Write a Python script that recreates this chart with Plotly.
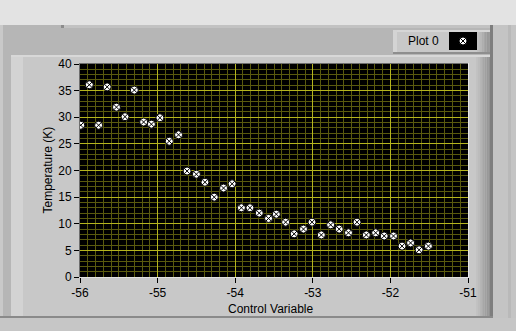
import plotly.graph_objects as go

# ---- data ----
control_variable = [-55.99, -55.88, -55.76, -55.65, -55.53, -55.42, -55.30, -55.18,
                    -55.08, -54.97, -54.85, -54.73, -54.62, -54.50, -54.39, -54.27,
                    -54.15, -54.04, -53.92, -53.81, -53.69, -53.57, -53.47, -53.35,
                    -53.24, -53.12, -53.01, -52.89, -52.77, -52.66, -52.54, -52.43,
                    -52.31, -52.19, -52.08, -51.96, -51.85, -51.74, -51.63, -51.51]
temperature_k = [28.5, 36.1, 28.5, 35.7, 31.9, 30.1, 35.1, 29.1,
                 28.7, 29.9, 25.5, 26.7, 19.9, 19.3, 17.8, 15.0,
                 16.7, 17.5, 13.0, 13.0, 12.0, 11.0, 11.8, 10.3,
                 8.1, 9.0, 10.3, 7.9, 9.8, 9.0, 8.3, 10.3,
                 7.9, 8.3, 7.7, 7.7, 5.8, 6.4, 5.1, 5.8]
x_tick_values = [-56, -55, -54, -53, -52, -51]
x_tick_labels = ["-56", "-55", "-54", "-53", "-52", "-51"]
y_tick_values = [0, 5, 10, 15, 20, 25, 30, 35, 40]
y_tick_labels = ["0", "5", "10", "15", "20", "25", "30", "35", "40"]
series_name = "Plot 0"
x_title = "Control Variable"
y_title = "Temperature (K)"

# ---- geometry (pixels) ----
W, H = 516, 331
L, R, T, B = 80, 468, 64, 277
FONT = "Liberation Sans"


def px(x):
    return (x - L) / (R - L)


def py(y):
    return (B - y) / (B - T)


def rect(x0, y0, x1, y1, color):
    return dict(type="rect", xref="paper", yref="paper",
                x0=px(x0), x1=px(x1), y0=py(y1), y1=py(y0),
                fillcolor=color, line=dict(width=0), layer="below")


def hline(x0, x1, y, color, w=1):
    return dict(type="line", xref="paper", yref="paper",
                x0=px(x0), x1=px(x1), y0=py(y), y1=py(y),
                line=dict(color=color, width=w), layer="below")


def vline(x, y0, y1, color, w=1):
    return dict(type="line", xref="paper", yref="paper",
                x0=px(x), x1=px(x), y0=py(y0), y1=py(y1),
                line=dict(color=color, width=w), layer="below")


shapes = []
# outer panel
shapes.append(rect(0, 25, 516, 331, "#b6b6b6"))
shapes.append(rect(0, 25, 3, 331, "#c9c9c9"))
shapes.append(rect(64, 25, 507, 28, "#c2c2c2"))
shapes.append(rect(61, 25, 64, 28, "#8c8c8c"))
# right and bottom light regions
shapes.append(rect(493, 25, 516, 331, "#c4c4c4"))
shapes.append(rect(508, 25, 511, 331, "#b9b9b9"))
shapes.append(rect(0, 318, 516, 331, "#c6c6c6"))
# inner panel
shapes.append(rect(11, 55, 490, 317, "#c8c8c8"))
shapes.append(rect(11, 55, 23, 317, "#d3d3d3"))
shapes.append(rect(11, 55, 490, 57, "#d8d8d8"))
grad = ["#c2c2c2", "#bcbcbc", "#b5b5b5", "#aeaeae", "#a7a7a7", "#a0a0a0", "#999999", "#929292"]
for i, c in enumerate(grad):
    shapes.append(rect(476 + i * 1.75, 57, 476 + (i + 1) * 1.75, 317, c))
shapes.append(rect(490, 25, 493, 318, "#7e7e7e"))
shapes.append(rect(0, 316, 493, 318, "#8a8a8a"))
# legend panel
shapes.append(rect(393, 30, 490, 53, "#c8c8c8"))
shapes.append(rect(393, 30, 490, 32, "#d6d6d6"))
shapes.append(rect(393, 30, 397, 53, "#d4d4d4"))
for i, c in enumerate(grad):
    shapes.append(rect(477 + i * 1.6, 32, 477 + (i + 1) * 1.6, 53, c))
shapes.append(rect(393, 52, 490, 54, "#8e8e8e"))
shapes.append(rect(449, 32, 477, 50, "#000000"))
# plot area
shapes.append(rect(L, T, R, B, "#000000"))
shapes.append(hline(L - 1, R + 1, T - 0.5, "#6e6e6e"))
shapes.append(vline(L - 0.5, T - 1, B, "#6e6e6e"))
shapes.append(vline(R + 0.5, T - 1, B + 1, "#e6e6e6"))
shapes.append(hline(L - 1, R + 1, B + 0.5, "#e0e0e0"))

annotations = [
    dict(text=x_title, xref="paper", yref="paper", x=px(270.5), y=py(309),
         xanchor="center", yanchor="middle", showarrow=False,
         font=dict(family=FONT, size=12, color="black")),
    dict(text=y_title, xref="paper", yref="paper", x=px(47.5), y=py(170),
         xanchor="center", yanchor="middle", showarrow=False, textangle=-90,
         font=dict(family=FONT, size=12, color="black")),
    dict(text=series_name, xref="paper", yref="paper", x=px(423), y=py(41.5),
         xanchor="center", yanchor="middle", showarrow=False,
         font=dict(family=FONT, size=12, color="black")),
]

fig = go.Figure()
fig.add_trace(go.Scatter(
    x=control_variable, y=temperature_k, mode="markers", name=series_name,
    marker=dict(symbol="circle-x", size=8, color="white",
                line=dict(color="black", width=1)),
    cliponaxis=True, showlegend=True,
))

major = "#b4b41e"
minor = "#5a5a0e"
fig.update_layout(
    width=W, height=H,
    margin=dict(l=L, r=W - R, t=T, b=H - B, pad=0, autoexpand=False),
    paper_bgcolor="#e3e3e3", plot_bgcolor="#000000",
    shapes=shapes, annotations=annotations,
    showlegend=True,
    legend=dict(x=px(443), y=py(41), xanchor="left", yanchor="middle",
                bgcolor="rgba(0,0,0,0)", borderwidth=0,
                font=dict(family=FONT, size=12, color="rgba(0,0,0,0)")),
    xaxis=dict(range=[-56, -51], tickmode="array", tickvals=x_tick_values,
               ticktext=x_tick_labels, ticks="outside", ticklen=5, tickwidth=1,
               tickcolor="black", showgrid=True, gridcolor=major, gridwidth=1,
               minor=dict(tickmode="linear", tick0=-56, dtick=0.1, showgrid=True,
                          gridcolor=minor, gridwidth=1, ticks=""),
               zeroline=False, showline=False, fixedrange=True,
               tickfont=dict(family=FONT, size=12, color="black")),
    yaxis=dict(range=[0, 40], tickmode="array", tickvals=y_tick_values,
               ticktext=y_tick_labels, ticks="outside", ticklen=5, tickwidth=1,
               tickcolor="black", showgrid=True, gridcolor=major, gridwidth=1,
               minor=dict(tickmode="linear", tick0=0, dtick=1, showgrid=True,
                          gridcolor=minor, gridwidth=1, ticks=""),
               zeroline=False, showline=False, fixedrange=True,
               tickfont=dict(family=FONT, size=12, color="black")),
)

fig.write_html("out.html")
